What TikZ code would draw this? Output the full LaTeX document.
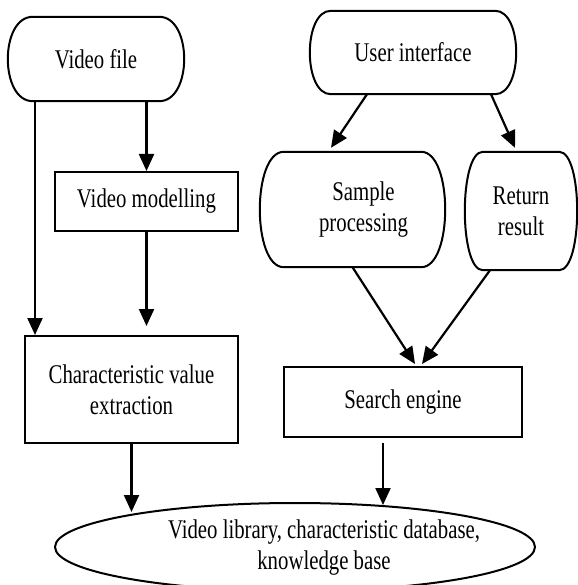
\documentclass[tikz,border=0pt]{standalone}
\usepackage{fontspec}
\setmainfont{Liberation Serif}[FakeStretch=0.77]
\usetikzlibrary{positioning}
\usetikzlibrary{calc,arrows.meta}
\usetikzlibrary{shapes.geometric}

\begin{document}
\begin{tikzpicture}[x=1pt,y=-1pt,
		every node/.style={font=\fontsize{27}{31}\selectfont,align=center},
		term/.style={rectangle,append after command={\pgfextra{
			\draw[line width=2pt] ([xshift=#1]\tikzlastnode.north west) -- ([xshift=-#1]\tikzlastnode.north east)
			.. controls ([xshift=#1/3]\tikzlastnode.north east) and ([xshift=#1/3]\tikzlastnode.south east) .. ([xshift=-#1]\tikzlastnode.south east)
			-- ([xshift=#1]\tikzlastnode.south west)
			.. controls ([xshift=-#1/3]\tikzlastnode.south west) and ([xshift=-#1/3]\tikzlastnode.north west) .. cycle;}}},
		proc/.style={rectangle,draw=black,line width=2pt},
		arr/.style={-{Triangle[length=17pt,width=15pt]},line width=2.2pt}]
		\useasboundingbox (0,0) rectangle (577,585);
		
		\coordinate(A) at (96,59);
		\coordinate(B) at (146.5,201.5);
		\coordinate(C) at (131.5,389.5);
		\coordinate(D) at (413,52.5);
		\coordinate(E) at (352.5,209.5);
		\coordinate(F) at (521,211);
		\coordinate(G) at (403,402);
		\coordinate(H) at (295,547);
		
		\node[term=25,minimum width=176pt,minimum height=84pt] (vfile) at (A) {Video file};
		\node[proc,minimum width=183pt,minimum height=59pt] (vmodel) at (B) {Video modelling};
		\node[proc,minimum width=213pt,minimum height=107pt] (charval) at (C) {Characteristic value\\extraction};
		\node[term=21,minimum width=206pt,minimum height=83pt] (ui) at (D) {User interface};
		\node[term=24,minimum width=185pt,minimum height=115pt] (sample) at ($(E)+(0,0)$) {\hspace*{22pt}Sample\\\hspace*{22pt}processing};
		\node[term=18,minimum width=112pt,minimum height=118pt] (ret) at (F) {Return\\result};
		\node[proc,minimum width=238pt,minimum height=70pt] (search) at (G) {Search engine};
		\node[ellipse,draw=black,line width=2pt,minimum width=480pt,minimum height=88pt] (lib) at (H) {};
		\node (libtext) at ($(H)+(29,1)$) {Video library, characteristic database,\\knowledge base};
		
		% left column
		\draw[arr] ([xshift=-61]vfile.south) -- ([xshift=-61]vfile.south |- charval.north);
		\draw[arr] (vfile.south -| vmodel.north) -- (vmodel.north);
		\draw[arr] (vmodel.south) -- ([yshift=9]vmodel.south |- charval.north);
		\draw[arr] (charval.south) -- ([yshift=-10]lib.north -| charval.south);
		
		% right column
		\draw[arr] ([xshift=-46]ui.south) -- ([shift={(-21.5,-4)}]sample.north);
		\draw[arr] ([xshift=78]ui.south) -- ([shift={(-6,-4)}]ret.north);
		\draw[arr] (sample.south) -- ([shift={(12,-2)}]search.north);
		\draw[arr] ([xshift=-31]ret.south) -- ([shift={(19,-2)}]search.north);
		\draw[arr] ([shift={(-20,5)}]search.south) -- ([shift={(88,3)}]lib.north);
	\end{tikzpicture}
\end{document}
